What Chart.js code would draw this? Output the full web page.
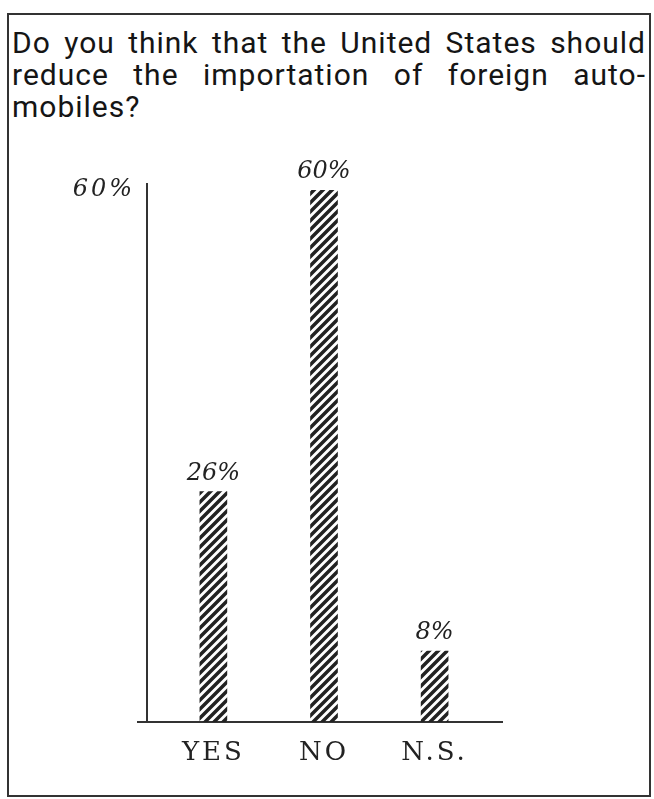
<!DOCTYPE html>
<html>
<head>
<meta charset="utf-8">
<script src="https://cdn.jsdelivr.net/npm/chart.js@4.4.1/dist/chart.umd.min.js"></script>
<style>
    html, body { margin: 0; padding: 0; background: #fff; }
    #page { position: relative; width: 654px; height: 799px; overflow: hidden; }
    #frame { position: absolute; left: 7px; top: 13px; width: 640px; height: 780px; border: 2px solid #333; }
    #title { position: absolute; left: 12px; top: 27px; width: 634px; font-family: 'Roboto', sans-serif; font-size: 30px; line-height: 32px; letter-spacing: 1px; color: #151515; }
    #title .j { text-align: justify; text-align-last: justify; white-space: nowrap; }
    #chart { position: absolute; left: 0; top: 0; }
</style>
</head>
<body>
<div id="page">
    <div id="frame"></div>
    <div id="title">
        <div class="j">Do you think that the United States should</div>
        <div class="j">reduce the importation of foreign auto-</div>
        <div>mobiles?</div>
    </div>
    <canvas id="chart" width="654" height="799"></canvas>
</div>
<script>
// Data
const categories = ['YES', 'NO', 'N.S.'];
const percents = [26, 60, 8];
const yTicks = [60];

const ink = '#222';
const italicFont = { family: "'DejaVu Serif', serif", size: 24, style: 'italic' };

// Hatched fill for the bars
function hatch() {
    const c = document.createElement('canvas');
    c.width = 9; c.height = 9;
    const g = c.getContext('2d');
    g.strokeStyle = ink;
    g.lineWidth = 3.5;
    g.beginPath();
    g.moveTo(-2, 11); g.lineTo(11, -2);
    g.moveTo(-2, 2); g.lineTo(2, -2);
    g.moveTo(7, 11); g.lineTo(11, 7);
    g.stroke();
    return g.createPattern(c, 'repeat');
}

// Spaced-out lettering for the axis labels
const spacing = {
    id: 'spacing',
    beforeDraw(chart) { chart.ctx.letterSpacing = '3px'; },
    beforeDatasetsDraw(chart) { chart.ctx.letterSpacing = '0px'; }
};

// Axis lines, drawn a bit past the plot area like the print
const axisLines = {
    id: 'axisLines',
    beforeDatasetsDraw(chart) {
        const { ctx, chartArea: a } = chart;
        ctx.save();
        ctx.strokeStyle = '#333';
        ctx.lineWidth = 2;
        ctx.beginPath();
        ctx.moveTo(a.left, a.top - 7);
        ctx.lineTo(a.left, a.bottom);
        ctx.moveTo(a.left - 10, a.bottom);
        ctx.lineTo(a.right + 2, a.bottom);
        ctx.stroke();
        ctx.restore();
    }
};

// Percent labels over each bar
const valueLabels = {
    id: 'valueLabels',
    afterDatasetsDraw(chart) {
        const { ctx } = chart;
        ctx.save();
        ctx.fillStyle = ink;
        ctx.font = 'italic 24px "DejaVu Serif", serif';
        ctx.textAlign = 'center';
        ctx.textBaseline = 'bottom';
        chart.getDatasetMeta(0).data.forEach((bar, i) => {
            ctx.fillText(percents[i] + '%', bar.x, bar.y - 6);
        });
        ctx.restore();
    }
};

new Chart(document.getElementById('chart'), {
    type: 'bar',
    data: {
        datasets: [{
            data: percents.map((v, i) => ({ x: i, y: v })),
            backgroundColor: hatch(),
            borderWidth: 0,
            barThickness: 27
        }]
    },
    options: {
        responsive: false,
        animation: false,
        events: [],
        layout: { padding: { left: 67, right: 153, top: 190, bottom: 27 } },
        plugins: { legend: { display: false }, tooltip: { enabled: false } },
        scales: {
            x: {
                type: 'linear',
                offset: false,
                min: -0.6,
                max: 2.6,
                grid: { display: false, drawTicks: false },
                border: { display: false },
                afterBuildTicks: (s) => { s.ticks = categories.map((c, i) => ({ value: i })); },
                afterFit: (s) => { s.height = 50; },
                ticks: {
                    callback: (v) => categories[v],
                    color: ink,
                    padding: 16,
                    font: { family: "'DejaVu Serif', serif", size: 26 }
                }
            },
            y: {
                min: 0,
                max: 60,
                grid: { display: false, drawTicks: false },
                border: { display: false },
                afterBuildTicks: (s) => { s.ticks = yTicks.map(v => ({ value: v })); },
                afterFit: (s) => { s.width = 80; },
                ticks: {
                    callback: (v) => v + '%',
                    color: ink,
                    padding: 12,
                    font: italicFont
                }
            }
        }
    },
    plugins: [spacing, axisLines, valueLabels]
});
</script>
</body>
</html>
